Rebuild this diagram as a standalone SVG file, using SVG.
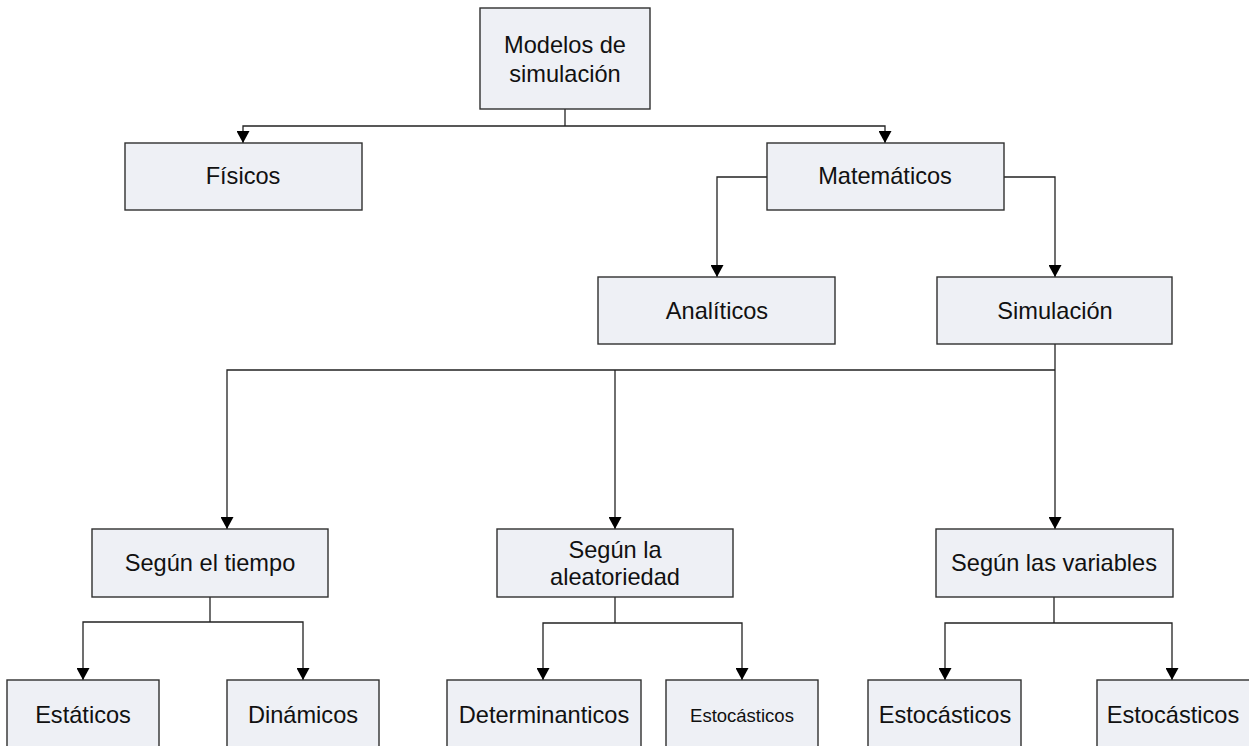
<svg xmlns="http://www.w3.org/2000/svg" width="1249" height="746" viewBox="0 0 1249 746">
  <style>
    .box { fill: #eef0f5; stroke: #303030; stroke-width: 1.4; }
    .lbl { font-family: "Liberation Sans", Arial, sans-serif; font-size: 23.6px; fill: #111; text-anchor: middle; }
    .sm { font-size: 18.5px; }
    .wire { fill: none; stroke: #222; stroke-width: 1.3; }
  </style>
  <defs>
    <marker id="arrow" viewBox="0 0 12 13" refX="12" refY="6.5" markerWidth="12" markerHeight="13" markerUnits="userSpaceOnUse" orient="auto">
      <path d="M0,0 L12,6.5 L0,13 Z" fill="#000"/>
    </marker>
  </defs>
  <rect width="1249" height="746" fill="#ffffff"/>

  <g id="connectors">
    <path class="wire" d="M565,109 V126"/>
    <path class="wire" d="M565,126 H243 V143" marker-end="url(#arrow)"/>
    <path class="wire" d="M565,126 H885 V143" marker-end="url(#arrow)"/>
    <path class="wire" d="M767,177 H717 V277" marker-end="url(#arrow)"/>
    <path class="wire" d="M1004,177 H1055 V277" marker-end="url(#arrow)"/>
    <path class="wire" d="M1055,344 V370"/>
    <path class="wire" d="M1055,370 H227 V529" marker-end="url(#arrow)"/>
    <path class="wire" d="M615,370 V529" marker-end="url(#arrow)"/>
    <path class="wire" d="M1055,370 V529" marker-end="url(#arrow)"/>
    <path class="wire" d="M210,597 V622"/>
    <path class="wire" d="M210,622 H83 V680" marker-end="url(#arrow)"/>
    <path class="wire" d="M210,622 H303 V680" marker-end="url(#arrow)"/>
    <path class="wire" d="M615,597 V623"/>
    <path class="wire" d="M615,623 H543 V680" marker-end="url(#arrow)"/>
    <path class="wire" d="M615,623 H742 V680" marker-end="url(#arrow)"/>
    <path class="wire" d="M1054,597 V623"/>
    <path class="wire" d="M1054,623 H945 V680" marker-end="url(#arrow)"/>
    <path class="wire" d="M1054,623 H1172 V680" marker-end="url(#arrow)"/>
  </g>

  <g id="modelos">
    <rect class="box" x="480" y="8" width="170" height="101"/>
    <text class="lbl" x="565" y="53">Modelos de</text>
    <text class="lbl" x="565" y="82">simulación</text>
  </g>
  <g id="fisicos">
    <rect class="box" x="125" y="143" width="237" height="67"/>
    <text class="lbl" x="243" y="184">Físicos</text>
  </g>
  <g id="matematicos">
    <rect class="box" x="767" y="143" width="237" height="67"/>
    <text class="lbl" x="885" y="184">Matemáticos</text>
  </g>
  <g id="analiticos">
    <rect class="box" x="598" y="277" width="237" height="67"/>
    <text class="lbl" x="717" y="319">Analíticos</text>
  </g>
  <g id="simulacion">
    <rect class="box" x="937" y="277" width="235" height="67"/>
    <text class="lbl" x="1055" y="319">Simulación</text>
  </g>
  <g id="segun-tiempo">
    <rect class="box" x="92" y="529" width="236" height="68"/>
    <text class="lbl" x="210" y="571">Según el tiempo</text>
  </g>
  <g id="segun-aleatoriedad">
    <rect class="box" x="497" y="529" width="236" height="68"/>
    <text class="lbl" x="615" y="558">Según la</text>
    <text class="lbl" x="615" y="585">aleatoriedad</text>
  </g>
  <g id="segun-variables">
    <rect class="box" x="936" y="529" width="237" height="68"/>
    <text class="lbl" x="1054" y="571">Según las variables</text>
  </g>
  <g id="estaticos">
    <rect class="box" x="7" y="680" width="152" height="80"/>
    <text class="lbl" x="83" y="723">Estáticos</text>
  </g>
  <g id="dinamicos">
    <rect class="box" x="227" y="680" width="152" height="80"/>
    <text class="lbl" x="303" y="723">Dinámicos</text>
  </g>
  <g id="determinanticos">
    <rect class="box" x="447" y="680" width="194" height="80"/>
    <text class="lbl" x="544" y="723">Determinanticos</text>
  </g>
  <g id="estocasticos-1">
    <rect class="box" x="666" y="680" width="152" height="80"/>
    <text class="lbl sm" x="742" y="722">Estocásticos</text>
  </g>
  <g id="estocasticos-2">
    <rect class="box" x="868" y="680" width="153" height="80"/>
    <text class="lbl" x="945" y="723">Estocásticos</text>
  </g>
  <g id="estocasticos-3">
    <rect class="box" x="1097" y="680" width="153" height="80"/>
    <text class="lbl" x="1173" y="723">Estocásticos</text>
  </g>
</svg>
